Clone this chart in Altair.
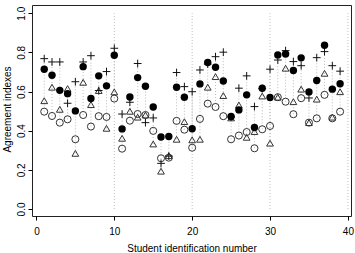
import altair as alt
import pandas as pd

students = list(range(1, 40))
filled_vals = [0.714,0.683,0.606,0.589,0.501,0.727,0.564,0.680,0.629,0.785,0.409,0.572,0.671,0.627,0.521,0.368,0.370,0.622,0.571,0.410,0.639,0.748,0.724,0.654,0.472,0.506,0.583,0.416,0.617,0.569,0.787,0.792,0.707,0.772,0.598,0.656,0.836,0.612,0.640]
open_vals = [0.497,0.475,0.441,0.458,0.356,0.480,0.421,0.474,0.470,0.564,0.308,0.451,0.485,0.480,0.399,0.259,0.262,0.450,0.405,0.313,0.460,0.538,0.521,0.474,0.356,0.375,0.393,0.310,0.407,0.424,0.571,0.548,0.484,0.566,0.441,0.463,0.583,0.463,0.497]
tri_vals = [0.553,0.622,0.509,0.615,0.284,0.647,0.533,0.605,0.412,0.598,0.361,0.499,0.469,0.480,0.332,0.193,0.272,0.356,0.446,0.353,0.356,0.622,0.676,0.579,0.465,0.531,0.366,0.395,0.577,0.336,0.571,0.719,0.548,0.612,0.441,0.561,0.693,0.469,0.599]
plus_vals = [0.768,0.751,0.751,0.540,0.650,0.751,0.783,0.605,0.702,0.821,0.485,0.545,0.743,0.441,0.465,0.233,0.270,0.697,0.625,0.599,0.710,0.740,0.778,0.801,0.470,0.617,0.680,0.523,0.615,0.714,0.761,0.809,0.753,0.732,0.567,0.773,0.804,0.732,0.704]
guide_x = [10, 20, 30, 40]
x_ticks = [0, 10, 20, 30, 40]
y_ticks = [0.0, 0.2, 0.4, 0.6, 0.8, 1.0]

df = pd.DataFrame({"student": students, "filled": filled_vals, "open": open_vals,
                   "tri": tri_vals, "plus": plus_vals})
df["lo"] = df[["filled", "open", "tri", "plus"]].min(axis=1)
df["hi"] = df[["filled", "open", "tri", "plus"]].max(axis=1)
guides = pd.DataFrame({"g": guide_x, "y0": [0.0] * 4, "y1": [1.0] * 4})

FONT = "Liberation Sans"
xscale = alt.Scale(domain=[-0.57, 40.4], nice=False, zero=False)
yscale = alt.Scale(domain=[-0.036, 1.042], nice=False, zero=False)

xaxis = alt.Axis(values=x_ticks, title="Student identification number", grid=False,
                 domain=False, tickSize=4, tickColor="black", labelPadding=6,
                 labelFont=FONT, labelFontSize=10, labelColor="black",
                 titleFont=FONT, titleFontSize=10, titleFontWeight="normal",
                 titleColor="black", titleBaseline="middle", titleY=32)
yaxis = alt.Axis(values=y_ticks, format=".1f", title="Agreement indexes", grid=False,
                 domain=False, tickSize=4, tickColor="black", labelPadding=2,
                 labelAngle=270, labelAlign="center", labelBaseline="bottom",
                 labelFont=FONT, labelFontSize=10, labelColor="black",
                 titleFont=FONT, titleFontSize=10, titleFontWeight="normal",
                 titleColor="black", titleAngle=270, titleBaseline="middle",
                 titleAlign="center", titleX=-25, titleY=104)

base = alt.Chart(df)

guide_layer = alt.Chart(guides).mark_rule(color="#bbbbbb", strokeDash=[1, 2], strokeWidth=1).encode(
    x=alt.X("g:Q", scale=xscale, axis=xaxis),
    y=alt.Y("y0:Q", scale=yscale, axis=yaxis),
    y2="y1:Q",
)

span = base.mark_rule(color="#bbbbbb", strokeDash=[1, 2], strokeWidth=1).encode(
    x=alt.X("student:Q", scale=xscale), y=alt.Y("lo:Q", scale=yscale), y2="hi:Q")

open_l = base.mark_point(shape="circle", filled=False, color="#333333", size=50, strokeWidth=1, opacity=1).encode(
    x=alt.X("student:Q", scale=xscale), y=alt.Y("open:Q", scale=yscale))
tri_l = base.mark_point(shape="triangle-up", filled=False, color="#333333", size=45, strokeWidth=1, opacity=1).encode(
    x=alt.X("student:Q", scale=xscale), y=alt.Y("tri:Q", scale=yscale))
plus_l = base.mark_point(shape="M-1,0L1,0M0,-1L0,1", filled=False, color="#111111", size=60, strokeWidth=1, opacity=1).encode(
    x=alt.X("student:Q", scale=xscale), y=alt.Y("plus:Q", scale=yscale))
filled_l = base.mark_point(shape="circle", filled=True, color="black", size=55, opacity=1).encode(
    x=alt.X("student:Q", scale=xscale), y=alt.Y("filled:Q", scale=yscale))

chart = alt.layer(guide_layer, span, open_l, tri_l, plus_l, filled_l).properties(
    width=319, height=211,
    autosize=alt.AutoSizeParams(type="none"),
    padding={"left": 32, "top": 5, "right": 4, "bottom": 37},
    background="white",
).configure_view(stroke="#222222", strokeWidth=1)

chart.save("out.html", embed_options={"renderer": "svg", "actions": False})
